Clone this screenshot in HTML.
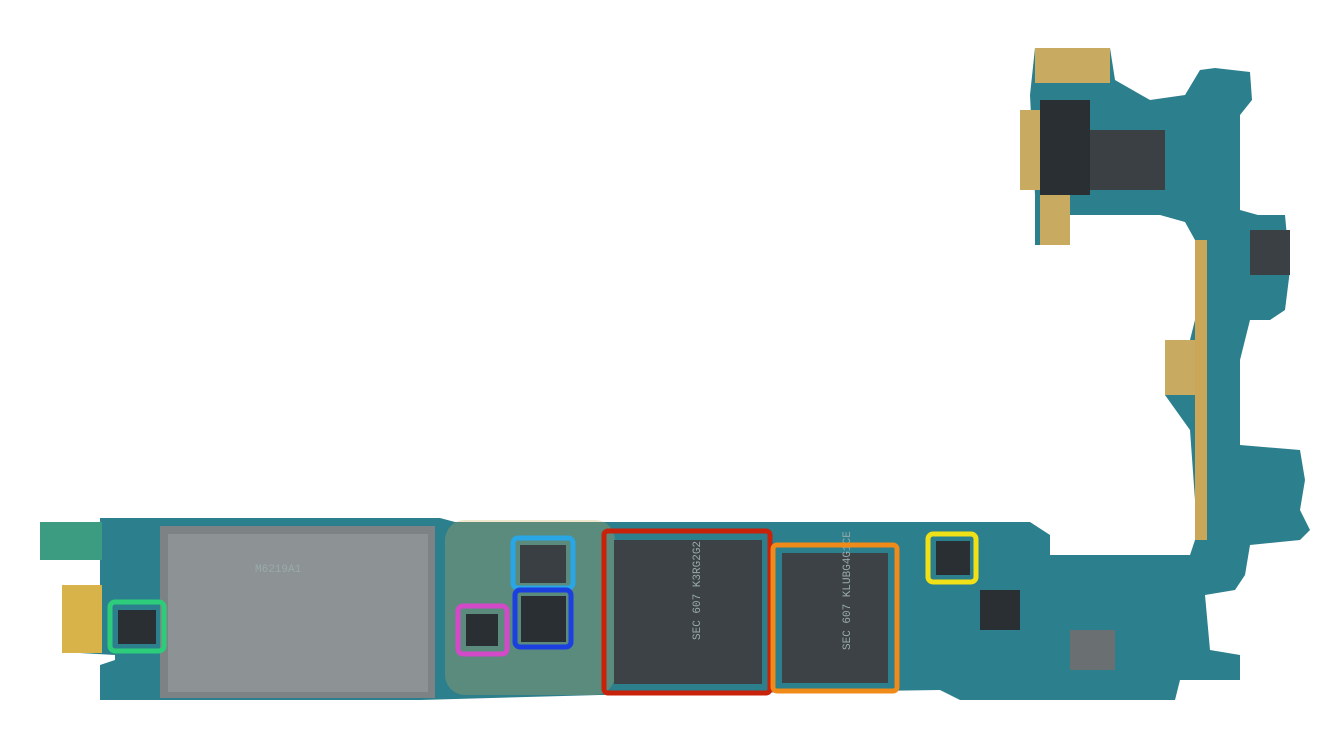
<!DOCTYPE html>
<html><head><style>body{margin:0;background:#fff}svg{display:block}</style></head><body>
<svg width="1328" height="747" viewBox="0 0 1328 747" xmlns="http://www.w3.org/2000/svg">
<path d="M40 522 L100 522 L100 518 L440 518 L455 522 L1030 522 L1050 535 L1050 555 L1190 555 L1195 540 L1195 500 L1190 430 L1165 395 L1165 345 L1190 340 L1200 300 L1195 240 L1185 222 L1160 215 L1060 215 L1060 245 L1035 245 L1035 195 L1030 95 L1035 48 L1110 48 L1115 80 L1150 100 L1185 95 L1200 70 L1215 68 L1250 72 L1252 100 L1240 115 L1240 210 L1258 215 L1285 215 L1290 270 L1285 310 L1270 320 L1250 320 L1240 360 L1240 445 L1300 450 L1305 480 L1300 510 L1310 530 L1300 540 L1250 545 L1245 575 L1235 590 L1205 595 L1210 650 L1240 655 L1240 680 L1180 680 L1175 700 L960 700 L940 690 L600 695 L420 700 L100 700 L100 665 L115 660 L115 655 L62 652 L62 585 L100 585 L100 560 L40 560 Z" fill="#2c7f8c"/>
<rect x="40" y="522" width="62" height="38" fill="#3c9c82"/>
<rect x="62" y="585" width="40" height="68" fill="#d8b34a"/>
<rect x="445" y="520" width="170" height="175" rx="20" fill="#c8a85a" opacity="0.3"/>
<rect x="1035" y="48" width="75" height="35" fill="#c8aa60"/>
<rect x="1040" y="190" width="30" height="55" fill="#c8aa60"/>
<rect x="1165" y="340" width="35" height="55" fill="#c8aa60"/>
<rect x="1195" y="240" width="12" height="300" fill="#c9a658"/>
<rect x="1020" y="110" width="25" height="80" fill="#c8aa60"/>
<rect x="1040" y="100" width="50" height="95" fill="#2a2f33"/>
<rect x="1090" y="130" width="75" height="60" fill="#3a4044"/>
<rect x="1250" y="230" width="40" height="45" fill="#3a4044"/>
<rect x="160" y="526" width="275" height="172" fill="#7d8285"/>
<rect x="168" y="534" width="260" height="158" fill="#8d9295"/>
<rect x="614" y="540" width="148" height="144" fill="#3d4246"/>
<rect x="782" y="553" width="106" height="130" fill="#3d4246"/>
<rect x="118" y="610" width="38" height="34" fill="#2a2f33"/>
<rect x="466" y="614" width="32" height="32" fill="#2a2f33"/>
<rect x="520" y="545" width="46" height="38" fill="#3a3f44"/>
<rect x="521" y="596" width="45" height="46" fill="#2a2f33"/>
<rect x="936" y="541" width="34" height="34" fill="#2a2f33"/>
<rect x="980" y="590" width="40" height="40" fill="#2a2f33"/>
<rect x="1070" y="630" width="45" height="40" fill="#6a6f72"/>
<g font-family="Liberation Mono,monospace" fill="#9aa" font-size="11">
<text x="255" y="572">M6219A1</text>
<text x="700" y="640" transform="rotate(-90 700 640)">SEC 607 K3RG2G2</text>
<text x="850" y="650" transform="rotate(-90 850 650)">SEC 607 KLUBG4G1CE</text>
</g>
<g fill="none" stroke-width="5">
<rect x="604" y="531" width="166" height="162" rx="4" stroke="#c9220a"/>
<rect x="773" y="545" width="124" height="146" rx="4" stroke="#f08a18"/>
<rect x="110" y="602" width="54" height="49" rx="5" stroke="#2dcc7a"/>
<rect x="458" y="606" width="49" height="48" rx="5" stroke="#d24ac8"/>
<rect x="513" y="538" width="60" height="50" rx="5" stroke="#29a6e6"/>
<rect x="515" y="590" width="56" height="57" rx="5" stroke="#1c3fe0"/>
<rect x="928" y="534" width="48" height="48" rx="5" stroke="#f0e018"/>
</g>
</svg>
</body></html>
